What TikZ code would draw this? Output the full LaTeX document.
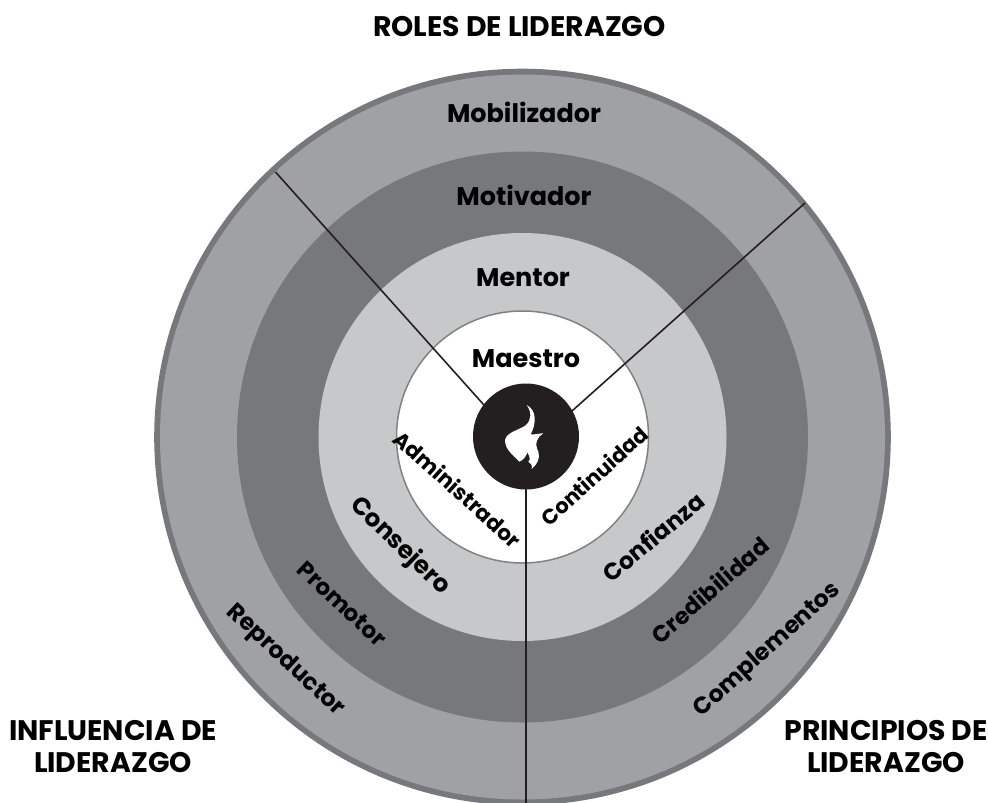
\documentclass[tikz,border=0pt]{standalone}
\usepackage{fontspec}
\setmainfont{Poppins}
\definecolor{ringouter}{HTML}{A0A1A4}
\definecolor{ringdark}{HTML}{77787B}
\definecolor{ringlight}{HTML}{C7C8CA}
\definecolor{ringedge}{HTML}{808285}
\definecolor{inkblack}{HTML}{231F20}
\tikzset{
  ringlabel/.style={font=\bfseries\fontsize{#1}{28}\selectfont,text=black,inner sep=0pt,anchor=center},
  ringlabel/.default=25.5,
  headlabel/.style={font=\bfseries\fontsize{28.3}{32}\selectfont,text=black,inner sep=0pt,align=center,anchor=center},
  spoke/.style={draw=inkblack,line width=1.6pt},
  spokefat/.style={draw=inkblack,line width=2.2pt},
}
\begin{document}
\begin{tikzpicture}[x=1pt,y=-1pt]
\useasboundingbox[fill=white] (0,0) rectangle (988,803);
\coordinate (c) at (522.5,437);
\coordinate (h) at (526,436.5);
\begin{scope}
\clip (0,0) rectangle (988,803);
\fill[ringdark] (c) circle (368.3);
\fill[ringouter] (c) circle (362.5);
\fill[ringdark] (c) circle (285.5);
\fill[ringlight] (c) circle (204);
\draw[ringedge,fill=white,line width=1.5pt] (c) circle (126);
\end{scope}
\coordinate (ul) at (275.5,172);
\coordinate (ur) at (805,203);
\coordinate (hubpt) at (526,452);
\coordinate (bot) at (526,803);
\draw[spoke] (ul) -- (hubpt);
\draw[spoke] (ur) -- (hubpt);
\draw[spokefat] (h) -- (bot);
\node[circle,fill=inkblack,minimum size=106pt,inner sep=0pt] (hub) at (h) {};
\begin{scope}[shift={(490,395)},x=.3333pt,y=-.3333pt]
\fill[white] (110,30) .. controls (140,45) and (140,85) .. (122,118)
  .. controls (132,120) and (145,115) .. (160,115)
  .. controls (142,125) and (132,145) .. (145,170)
  .. controls (152,190) and (140,210) .. (125,222)
  .. controls (128,210) and (122,205) .. (115,200)
  .. controls (122,195) and (120,185) .. (112,172)
  .. controls (108,185) and (100,195) .. (88,200)
  .. controls (70,180) and (45,165) .. (45,135)
  .. controls (50,110) and (90,105) .. (108,90)
  .. controls (125,75) and (125,50) .. (110,30) -- cycle;
\end{scope}
\node[headlabel] (title) at (519.5,27) {ROLES DE LIDERAZGO};
\node[headlabel] (left) at (113,747) {INFLUENCIA DE\\LIDERAZGO};
\node[headlabel] (right) at (886,747) {PRINCIPIOS DE\\LIDERAZGO};
\node[ringlabel] (mob) at (524,112) {Mobilizador};
\node[ringlabel] (mot) at (524,195) {Motivador};
\node[ringlabel] (men) at (523,278) {Mentor};
\node[ringlabel] (mae) at (526,359) {Maestro};
\node[ringlabel=21.5,rotate=-42] (adm) at (458,489) {Administrador};
\node[ringlabel=24.5,rotate=-44] (con) at (400,546) {Consejero};
\node[ringlabel=23,rotate=-43] (pro) at (342,604) {Promotor};
\node[ringlabel=23.5,rotate=-43] (rep) at (285,661) {Reproductor};
\node[ringlabel=21,rotate=42] (cnt) at (594,476) {Continuidad};
\node[ringlabel=23.5,rotate=40] (cfz) at (653,537) {Confianza};
\node[ringlabel=23,rotate=41] (cre) at (710,590) {Credibilidad};
\node[ringlabel=23.5,rotate=42] (cmp) at (768,650) {Complementos};
\end{tikzpicture}
\end{document}
